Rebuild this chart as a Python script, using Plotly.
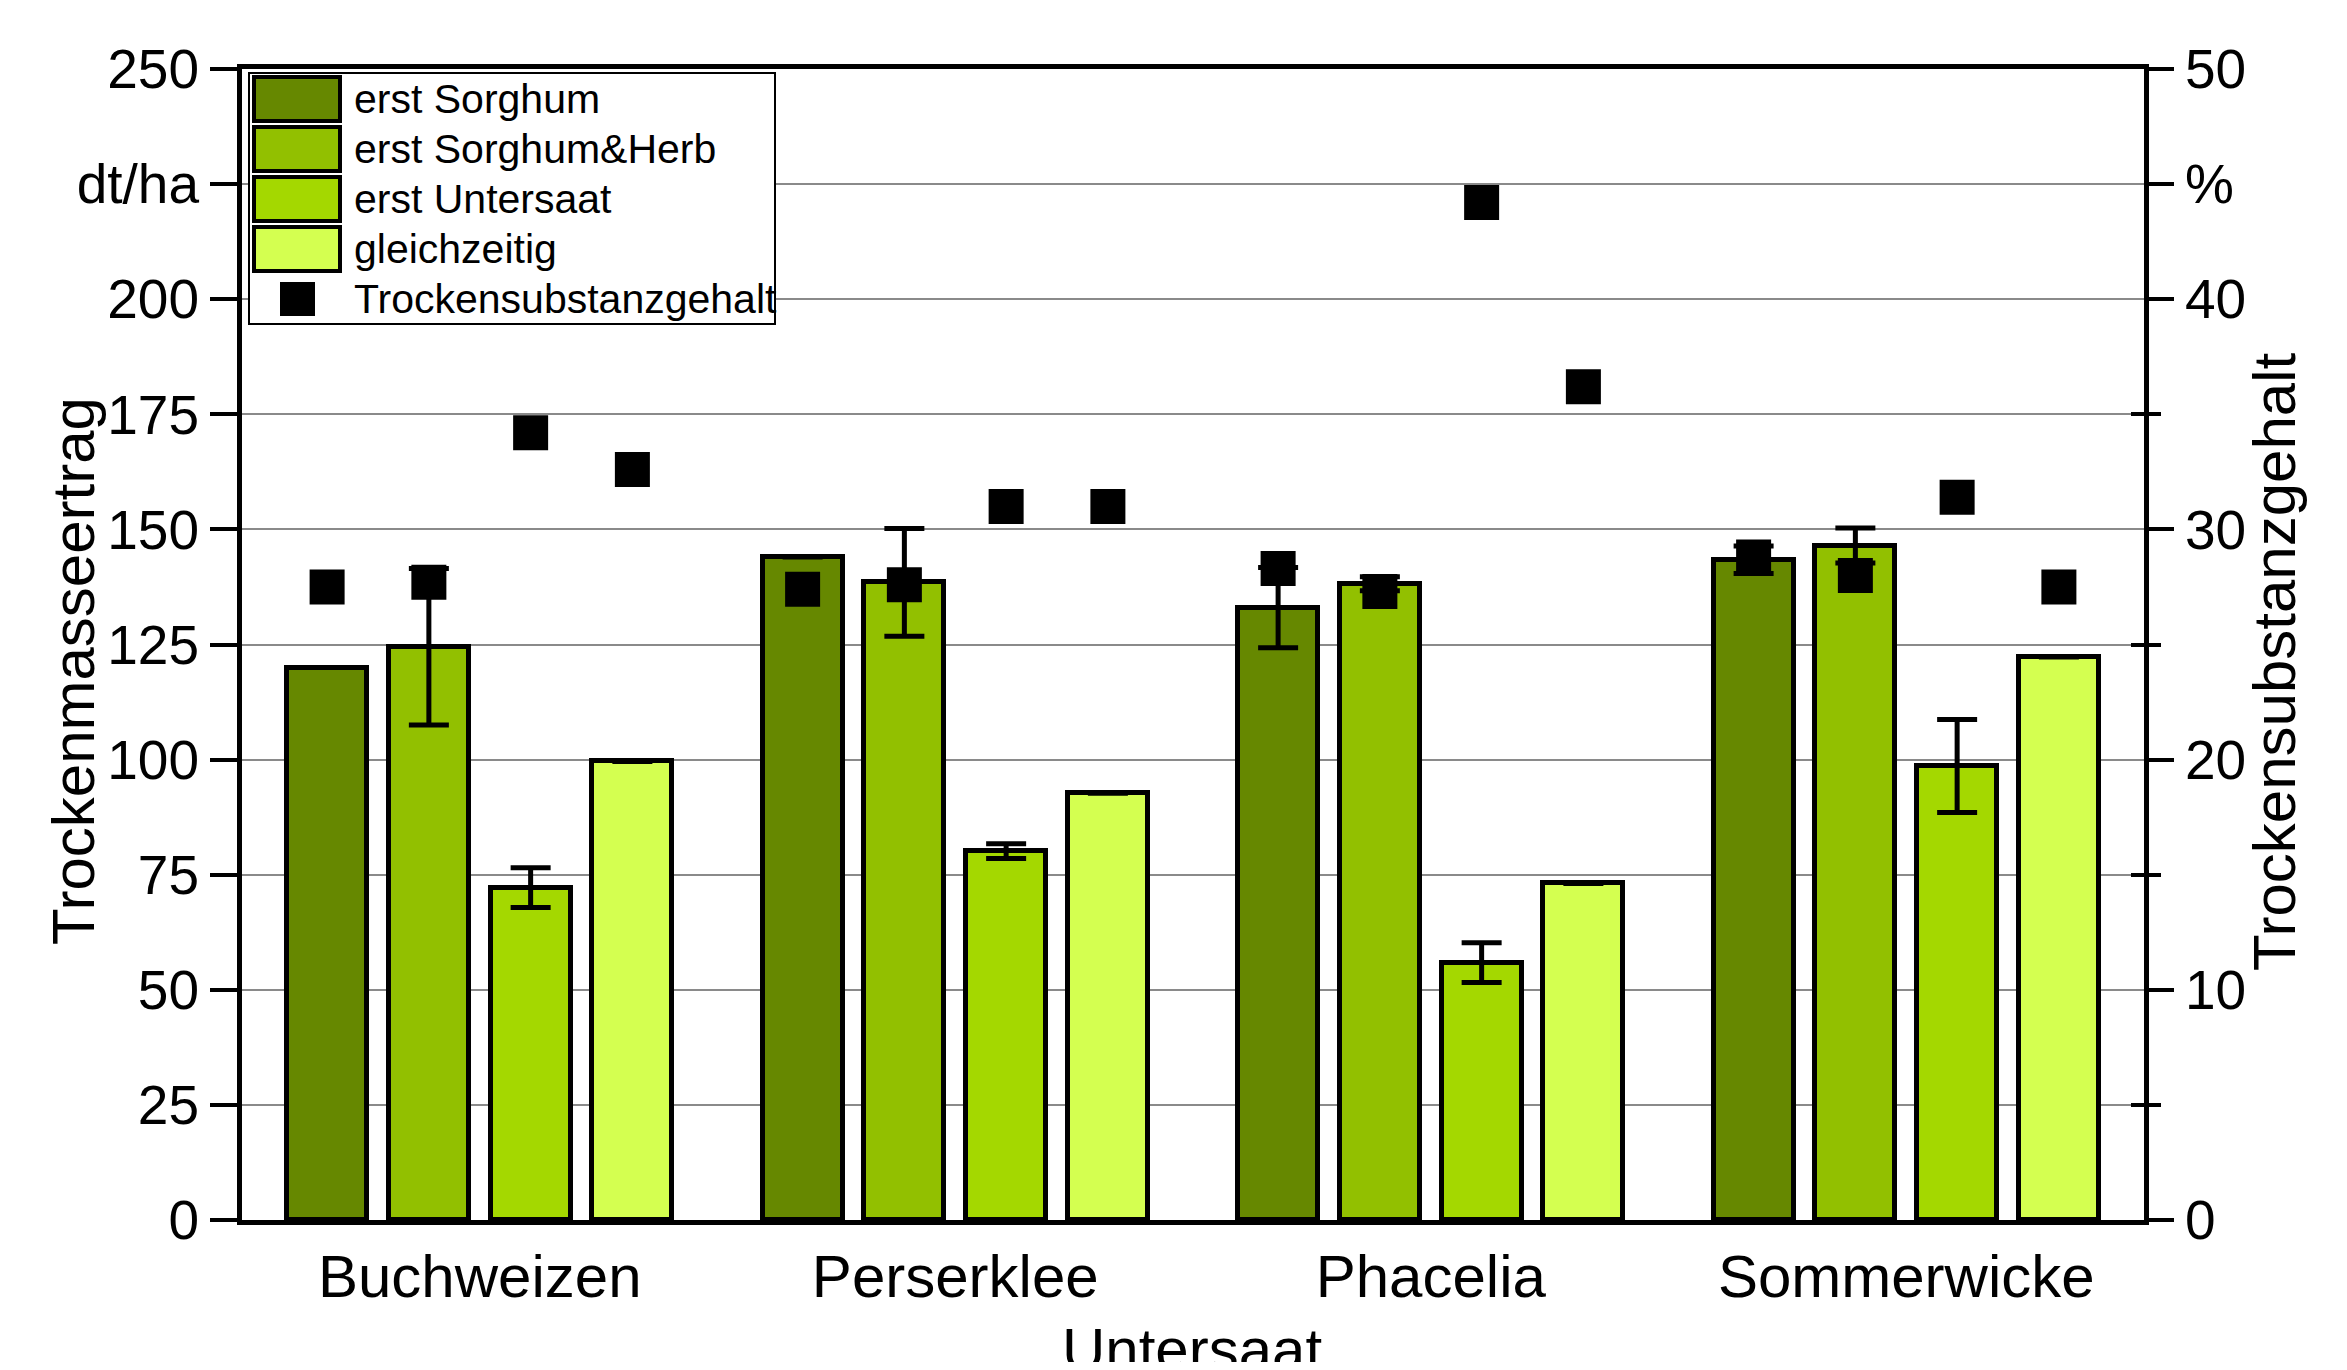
import plotly.graph_objects as go

# ---------------- data ----------------
categories = ["Buchweizen", "Perserklee", "Phacelia", "Sommerwicke"]
series_names = ["erst Sorghum", "erst Sorghum&Herb", "erst Untersaat", "gleichzeitig"]
series_colors = ["#668800", "#92C000", "#A4D800", "#D4FF50"]

yield_erst_sorghum = [120.0, 144.0, 133.0, 143.4]
yield_erst_sorghum_herb = [124.5, 138.5, 138.2, 146.5]
yield_erst_untersaat = [72.2, 80.1, 55.9, 98.6]
yield_gleichzeitig = [99.6, 92.7, 73.1, 122.3]

err_erst_sorghum = [None, None, 8.7, 3.0]
err_erst_sorghum_herb = [17.0, 11.7, 1.5, 3.8]
err_erst_untersaat = [4.3, 1.6, 4.3, 10.1]
err_gleichzeitig = [None, None, None, None]

ts_erst_sorghum = [27.5, 27.4, 28.3, 28.8]
ts_erst_sorghum_herb = [27.7, 27.6, 27.3, 28.0]
ts_erst_untersaat = [34.2, 31.0, 44.2, 31.4]
ts_gleichzeitig = [32.6, 31.0, 36.2, 27.5]

left_tickvals = [0, 25, 50, 75, 100, 125, 150, 175, 200, 225, 250]
left_ticktext = ["0", "25", "50", "75", "100", "125", "150", "175", "200", "dt/ha", "250"]
right_tickvals = [0, 10, 20, 30, 40, 45, 50]
right_ticktext = ["0", "10", "20", "30", "40", "%", "50"]
right_minor = [5, 15, 25, 35]

yield_series = [yield_erst_sorghum, yield_erst_sorghum_herb, yield_erst_untersaat, yield_gleichzeitig]
err_series = [err_erst_sorghum, err_erst_sorghum_herb, err_erst_untersaat, err_gleichzeitig]
ts_series = [ts_erst_sorghum, ts_erst_sorghum_herb, ts_erst_untersaat, ts_gleichzeitig]

# ---------------- layout geometry ----------------
FONT = "Arial, Liberation Sans, sans-serif"
OFF = 8                      # default body margin of the page
W, H = 2347 - 2 * OFF, 1370 - 2 * OFF
L, R, T, B = 234, 195, 61, 142
PW, PH = W - L - R, H - T - B

def px(xp):   # page x pixel -> paper
    return (xp - OFF - L) / PW

def py(yp):   # page y pixel -> paper
    return (H - B - (yp - OFF)) / PH

SLOT = 0.214
BAR_W = 0.168
n_series = len(series_names)

fig = go.Figure()
for j, name in enumerate(series_names):
    xs = [i + (j - (n_series - 1) / 2) * SLOT for i in range(len(categories))]
    fig.add_trace(go.Bar(
        x=xs, y=yield_series[j], width=BAR_W, name=name,
        marker=dict(color=series_colors[j], line=dict(color="black", width=5)),
        error_y=dict(type="data", array=err_series[j], symmetric=True,
                     color="black", thickness=5, width=20),
        showlegend=False,
    ))

ts_x, ts_y = [], []
for j in range(n_series):
    for i in range(len(categories)):
        ts_x.append(i + (j - (n_series - 1) / 2) * SLOT)
        ts_y.append(ts_series[j][i])
fig.add_trace(go.Scatter(
    x=ts_x, y=ts_y, yaxis="y2", mode="markers", name="Trockensubstanzgehalt",
    marker=dict(symbol="square", size=35, color="black", line=dict(width=0)),
    showlegend=False,
))

fig.update_layout(
    width=W, height=H,
    margin=dict(l=L, r=R, t=T, b=B, pad=0),
    paper_bgcolor="white", plot_bgcolor="white",
    font=dict(family=FONT, color="black"),
    bargap=0, bargroupgap=0,
    xaxis=dict(range=[-0.5, len(categories) - 0.5], tickvals=list(range(len(categories))),
               ticktext=categories, ticks="", showgrid=False, zeroline=False,
               showline=True, mirror=True, linewidth=5, linecolor="black",
               tickfont=dict(size=60, family=FONT), ticklabelstandoff=0),
    yaxis=dict(range=[0, 250], tickvals=left_tickvals, ticktext=left_ticktext,
               showgrid=True, gridcolor="#8a8a8a", gridwidth=2, zeroline=False,
               showline=True, linewidth=5, linecolor="black",
               ticks="outside", ticklen=27, tickwidth=4, tickcolor="black",
               tickfont=dict(size=55, family=FONT)),
    yaxis2=dict(range=[0, 50], overlaying="y", side="right", anchor="x",
                tickvals=right_tickvals, ticktext=right_ticktext,
                showgrid=False, zeroline=False, showline=True, linewidth=5, linecolor="black",
                ticks="outside", ticklen=25, tickwidth=4, tickcolor="black",
                tickfont=dict(size=55, family=FONT),
                minor=dict(tickmode="array", tickvals=right_minor, ticks="outside",
                           ticklen=12, tickwidth=4, tickcolor="black", showgrid=False)),
    yaxis3=dict(range=[0, 50], overlaying="y", side="right", anchor="x",
                tickvals=right_minor, ticks="inside", ticklen=13, tickwidth=4,
                tickcolor="black", showticklabels=False, showgrid=False,
                zeroline=False, showline=False),
)

# invisible trace so that the inner minor-tick axis is drawn
fig.add_trace(go.Scatter(x=[None], y=[None], yaxis="y3", showlegend=False, hoverinfo="skip"))

# axis titles
fig.add_annotation(text="Trockenmasseertrag", x=px(73), y=py(671), xref="paper", yref="paper",
                   textangle=-90, showarrow=False, font=dict(size=60, family=FONT),
                   xanchor="center", yanchor="middle")
fig.add_annotation(text="Trockensubstanzgehalt", x=px(2274), y=py(662), xref="paper", yref="paper",
                   textangle=-90, showarrow=False, font=dict(size=60, family=FONT),
                   xanchor="center", yanchor="middle")
fig.add_annotation(text="Untersaat", x=px(1192), y=py(1349), xref="paper", yref="paper",
                   showarrow=False, font=dict(size=60, family=FONT),
                   xanchor="center", yanchor="middle")

# legend (drawn manually so the swatches match the reference size)
fig.add_shape(type="rect", xref="paper", yref="paper", x0=px(249), x1=px(775), y0=py(73), y1=py(324),
              line=dict(color="black", width=2), fillcolor="white", layer="above")
row_y = [99, 149, 199, 249, 299]
for k, name in enumerate(series_names):
    yc = row_y[k]
    fig.add_shape(type="rect", xref="paper", yref="paper", x0=px(254), x1=px(340),
                  y0=py(yc - 22), y1=py(yc + 22), fillcolor=series_colors[k],
                  line=dict(color="black", width=4), layer="above")
    fig.add_annotation(text=name, x=px(352), y=py(yc), xref="paper", yref="paper",
                       showarrow=False, xanchor="left", yanchor="middle",
                       font=dict(size=41, family=FONT))
fig.add_shape(type="rect", xref="paper", yref="paper", x0=px(280), x1=px(315),
              y0=py(row_y[4] - 17), y1=py(row_y[4] + 17), fillcolor="black",
              line=dict(width=0), layer="above")
fig.add_annotation(text="Trockensubstanzgehalt", x=px(352), y=py(row_y[4]), xref="paper", yref="paper",
                   showarrow=False, xanchor="left", yanchor="middle",
                   font=dict(size=41, family=FONT))

fig.write_html("out.html")
